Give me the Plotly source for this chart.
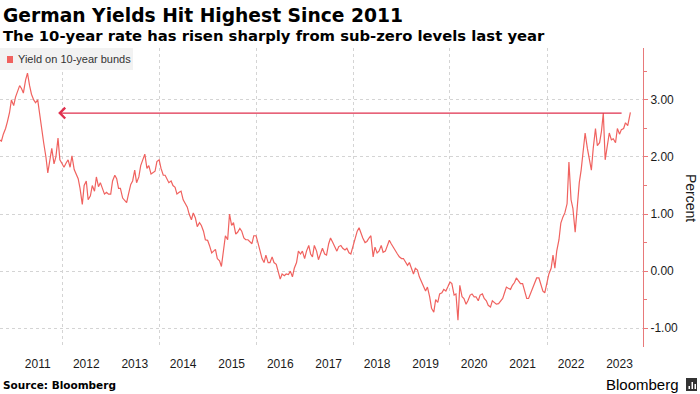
import pandas as pd
import plotly.graph_objects as go

# ---- data: German 10-year bund yield, semi-monthly readings (1st and 15th) ----
start_2010 = "2010-09-15"
y2010 = [2.30, 2.28, 2.40, 2.50, 2.62, 2.78, 3.00]
yearly = {
    2011: [2.90, 3.05, 3.15, 3.25, 3.20, 3.12, 3.35, 3.47, 3.25, 3.10, 3.00, 2.95,
           3.00, 2.75, 2.45, 2.25, 2.00, 1.72, 1.95, 2.15, 1.88, 2.00, 2.33, 1.95],
    2012: [1.88, 1.82, 1.90, 1.95, 1.82, 2.02, 1.78, 1.70, 1.62, 1.45, 1.17, 1.50,
           1.58, 1.25, 1.32, 1.50, 1.40, 1.65, 1.48, 1.55, 1.45, 1.35, 1.38, 1.35],
    2013: [1.35, 1.58, 1.68, 1.62, 1.45, 1.45, 1.28, 1.25, 1.20, 1.35, 1.52, 1.58,
           1.77, 1.55, 1.65, 1.85, 1.95, 2.05, 1.80, 1.85, 1.70, 1.72, 1.75, 1.92],
    2014: [1.95, 1.80, 1.68, 1.68, 1.62, 1.55, 1.58, 1.50, 1.47, 1.35, 1.38, 1.40,
           1.25, 1.18, 1.12, 1.00, 0.90, 1.02, 0.93, 0.78, 0.85, 0.80, 0.70, 0.55],
    2015: [0.54, 0.45, 0.32, 0.35, 0.38, 0.22, 0.18, 0.08, 0.35, 0.62, 0.55, 1.00,
           0.80, 0.85, 0.65, 0.68, 0.75, 0.70, 0.58, 0.55, 0.55, 0.52, 0.48, 0.62],
    2016: [0.62, 0.50, 0.35, 0.22, 0.15, 0.28, 0.15, 0.15, 0.25, 0.15, 0.12, 0.00,
           -0.14, -0.05, -0.08, -0.05, -0.06, 0.00, -0.10, 0.05, 0.15, 0.35, 0.30, 0.35],
    2017: [0.22, 0.35, 0.45, 0.30, 0.25, 0.45, 0.35, 0.20, 0.32, 0.40, 0.30, 0.28,
           0.48, 0.58, 0.50, 0.42, 0.35, 0.43, 0.45, 0.40, 0.37, 0.40, 0.32, 0.30],
    2018: [0.43, 0.58, 0.70, 0.76, 0.65, 0.58, 0.50, 0.52, 0.58, 0.62, 0.25, 0.42,
           0.32, 0.35, 0.45, 0.33, 0.35, 0.45, 0.54, 0.48, 0.42, 0.38, 0.30, 0.25],
    2019: [0.22, 0.22, 0.15, 0.10, 0.15, 0.05, -0.05, 0.05, 0.02, -0.10, -0.20, -0.25,
           -0.35, -0.28, -0.45, -0.65, -0.72, -0.50, -0.55, -0.40, -0.38, -0.32, -0.35, -0.28],
    2020: [-0.19, -0.22, -0.42, -0.40, -0.86, -0.25, -0.45, -0.48, -0.58, -0.52, -0.42, -0.40,
           -0.45, -0.45, -0.52, -0.42, -0.40, -0.48, -0.52, -0.60, -0.63, -0.52, -0.55, -0.58],
    2021: [-0.57, -0.52, -0.48, -0.38, -0.28, -0.30, -0.32, -0.25, -0.20, -0.12, -0.18, -0.22,
           -0.22, -0.35, -0.48, -0.48, -0.38, -0.30, -0.20, -0.12, -0.12, -0.25, -0.35, -0.38],
    2022: [-0.18, -0.05, 0.05, 0.28, 0.05, 0.35, 0.55, 0.84, 0.95, 1.02, 1.18, 1.91,
           1.25, 1.10, 0.68, 1.05, 1.55, 1.77, 2.10, 2.42, 2.15, 2.00, 1.77, 2.15],
    2023: [2.50, 2.20, 2.25, 2.45, 2.77, 1.95, 2.25, 2.42, 2.30, 2.32, 2.25, 2.50,
           2.40, 2.48, 2.50, 2.60, 2.55, 2.70],
}
tail_dates = ["2023-09-21"]
tail_values = [2.78]

year_ticks = list(range(2011, 2024))
grid_years = [2012, 2014, 2016, 2018, 2020, 2022]
y_ticks = [-1, 0, 1, 2, 3]

previous_peak = 2.77
arrow_head_date = "2011-12-02"
arrow_tail_date = "2023-07-28"

# ---- assemble series ----
dates = list(pd.date_range(start_2010, periods=len(y2010), freq="SMS"))
values = list(y2010)
for yr, vals in yearly.items():
    dates += list(pd.date_range(f"{yr}-01-01", periods=len(vals), freq="SMS"))
    values += vals
dates += [pd.Timestamp(d) for d in tail_dates]
values += tail_values

LINE = "#f0625f"
AXIS = "#e8797a"
ARROW = "#e0304e"
TEXT = "#1a1a1a"
FONT = "Liberation Sans, Arial, sans-serif"
BOLD = "DejaVu Sans, Verdana, sans-serif"

W, H = 700, 394
ML, MR, MT, MB = 0, 57, 48, 47
PW, PH = W - ML - MR, H - MT - MB


def px(x):
    return (x - ML) / PW


def py(y):
    return 1 - (y - MT) / PH


fig = go.Figure()
fig.add_trace(go.Scatter(
    x=dates, y=values, mode="lines",
    line=dict(color=LINE, width=1.2),
    showlegend=False, hoverinfo="skip",
))

fig.update_layout(
    width=W, height=H,
    margin=dict(l=ML, r=MR, t=MT, b=MB, autoexpand=False),
    paper_bgcolor="white", plot_bgcolor="white",
    font=dict(family=FONT, size=12, color=TEXT),
    xaxis=dict(
        type="date",
        range=["2010-09-20", "2023-12-25"],
        tickmode="array",
        tickvals=[f"{y}-07-01" for y in year_ticks],
        ticktext=[str(y) for y in year_ticks],
        ticks="outside", ticklen=6, tickcolor="rgba(0,0,0,0)",
        showgrid=False, zeroline=False, showline=False,
        tickfont=dict(size=12, color=TEXT),
        minor=dict(
            tickmode="array",
            tickvals=[f"{y}-01-01" for y in grid_years],
            showgrid=True, gridcolor="#d4d4d4", griddash="dot", gridwidth=1,
            ticks="",
        ),
    ),
    yaxis=dict(
        side="right",
        range=[-1.33, 3.91],
        tickmode="array",
        tickvals=y_ticks,
        ticktext=[f"{v:.2f}" for v in y_ticks],
        ticks="outside", ticklen=4, tickcolor=AXIS, tickwidth=1,
        showline=True, linecolor=AXIS, linewidth=1,
        showgrid=True, gridcolor="#d4d4d4", griddash="dot", gridwidth=1,
        zeroline=False,
        tickfont=dict(size=12, color=TEXT),
        minor=dict(dtick=0.5, tick0=0, ticks="outside", ticklen=3,
                   tickcolor=AXIS, showgrid=False),
    ),
)

# arrow pointing back to the 2011 level
fig.add_annotation(
    x=arrow_head_date, y=previous_peak, ax=arrow_tail_date, ay=previous_peak,
    xref="x", yref="y", axref="x", ayref="y",
    text="", showarrow=True, arrowhead=4, arrowsize=1.6, arrowwidth=1.3,
    arrowcolor=ARROW, standoff=0, startstandoff=0,
)

# legend box
fig.add_shape(type="rect", xref="paper", yref="paper",
              x0=px(0), x1=px(133), y0=py(70), y1=py(48),
              fillcolor="#f2f2f2", line=dict(width=0), layer="above")
fig.add_shape(type="rect", xref="paper", yref="paper",
              x0=px(7), x1=px(13), y0=py(63), y1=py(56),
              fillcolor=LINE, line=dict(width=0), layer="above")
fig.add_annotation(x=px(16), y=py(59.5), xref="paper", yref="paper",
                   text="Yield on 10-year bunds", showarrow=False,
                   xanchor="left", yanchor="middle",
                   font=dict(size=11, color="#333333"))

# titles
fig.add_annotation(x=px(1), y=py(15), xref="paper", yref="paper",
                   text="<b>German Yields Hit Highest Since 2011</b>",
                   showarrow=False, xanchor="left", yanchor="middle",
                   font=dict(family=BOLD, size=18.7, color="#000000"))
fig.add_annotation(x=px(1), y=py(35), xref="paper", yref="paper",
                   text="<b>The 10-year rate has risen sharply from sub-zero levels last year</b>",
                   showarrow=False, xanchor="left", yanchor="middle",
                   font=dict(family=BOLD, size=14.8, color="#000000"))

# axis title
fig.add_annotation(x=px(691), y=py(198), xref="paper", yref="paper",
                   text="Percent", showarrow=False, textangle=90,
                   xanchor="center", yanchor="middle",
                   font=dict(size=14, color=TEXT))

# footer
fig.add_annotation(x=px(1), y=py(385), xref="paper", yref="paper",
                   text="<b>Source: Bloomberg</b>", showarrow=False,
                   xanchor="left", yanchor="middle",
                   font=dict(family=BOLD, size=10.5, color="#000000"))
fig.add_annotation(x=px(681), y=py(384), xref="paper", yref="paper",
                   text="Bloomberg", showarrow=False,
                   xanchor="right", yanchor="middle",
                   font=dict(size=15, color="#000000"))
fig.add_shape(type="rect", xref="paper", yref="paper",
              x0=px(686), x1=px(697), y0=py(391), y1=py(378),
              fillcolor="#333333", line=dict(width=0))
for bx0, bx1, by in [(688.5, 690, 386), (691.5, 693, 382), (694.5, 696, 384)]:
    fig.add_shape(type="rect", xref="paper", yref="paper",
                  x0=px(bx0), x1=px(bx1), y0=py(389), y1=py(by),
                  fillcolor="white", line=dict(width=0))

fig.write_html(
    "out.html",
    config={"displayModeBar": False},
    post_script="document.body.style.margin='0';document.body.style.padding='0';",
)
